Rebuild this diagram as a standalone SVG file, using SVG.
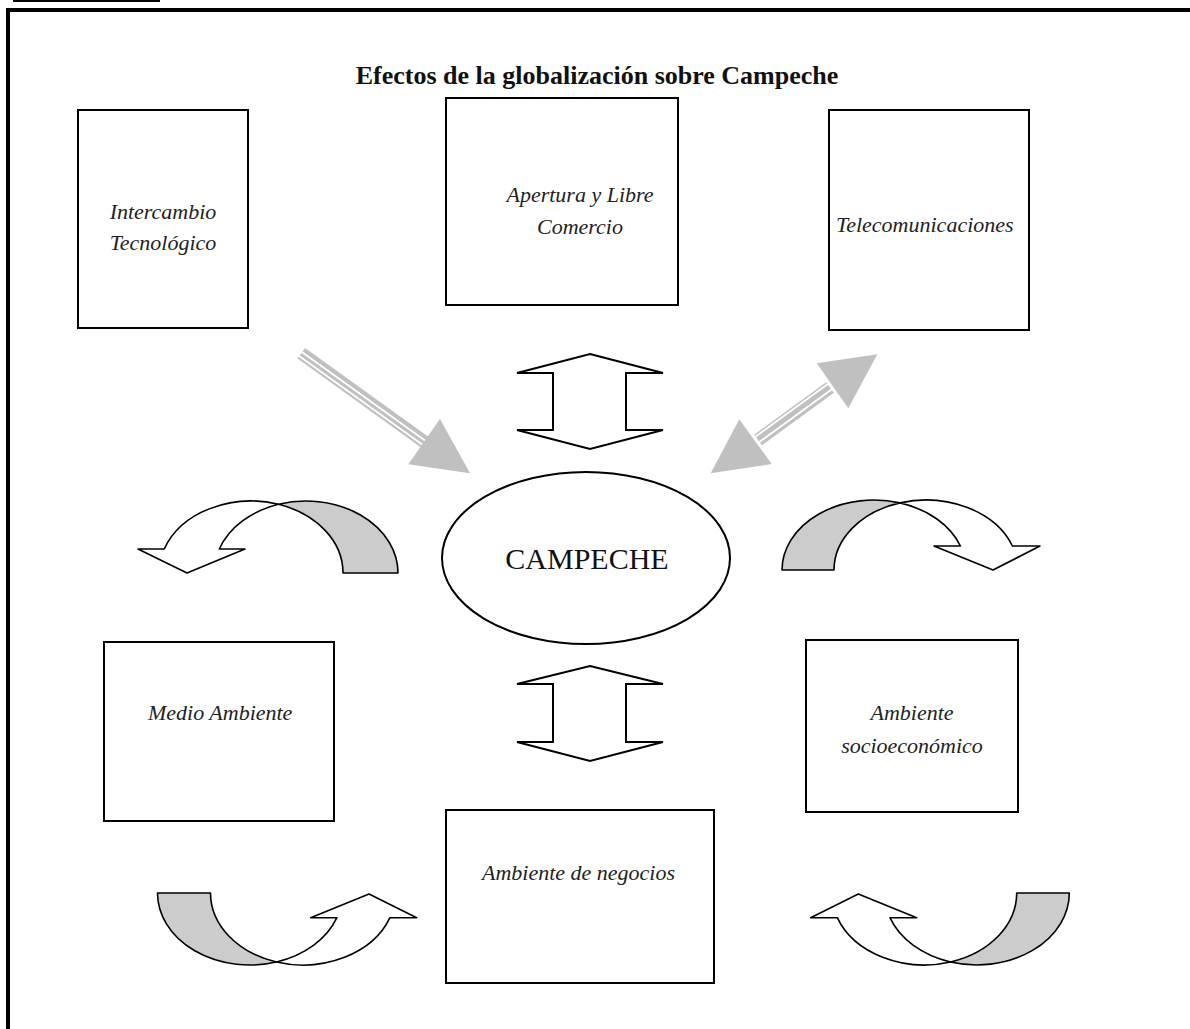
<svg xmlns="http://www.w3.org/2000/svg" width="1190" height="1029" viewBox="0 0 1190 1029">
<style>
.box{fill:#fff;stroke:#000;stroke-width:2}
.lbl{font-family:"Liberation Serif",serif;font-style:italic;font-size:22px;fill:#222}
.curve{stroke:#000;stroke-width:1.6;stroke-linejoin:round}
.w{fill:#fff}
.g{fill:#cccccc}
.dbl{fill:#fff;stroke:#000;stroke-width:2;stroke-linejoin:miter}
.shaft{stroke:#c0c0c0;stroke-width:13;fill:none}
.stripe{stroke:#fff;stroke-width:1.8;fill:none}
.head{fill:#c0c0c0}
</style>
<rect x="0" y="0" width="1190" height="1029" fill="#fff"/>
<line x1="13" y1="1" x2="160" y2="1" stroke="#000" stroke-width="2"/>
<path d="M8,1029 V10 H1190" fill="none" stroke="#000" stroke-width="4"/>
<text x="597" y="84" text-anchor="middle" font-family="Liberation Serif,serif" font-weight="bold" font-size="26" fill="#111">Efectos de la globalización sobre Campeche</text>

<g id="node-intercambio">
<rect class="box" x="78" y="110" width="170" height="218"/>
<text class="lbl" x="163" y="219" text-anchor="middle">Intercambio</text>
<text class="lbl" x="163" y="250" text-anchor="middle">Tecnológico</text>
</g>
<g id="node-apertura">
<rect class="box" x="446" y="98" width="232" height="207"/>
<text class="lbl" x="580" y="202" text-anchor="middle">Apertura y Libre</text>
<text class="lbl" x="580" y="234" text-anchor="middle">Comercio</text>
</g>
<g id="node-telecom">
<rect class="box" x="829" y="110" width="200" height="220"/>
<text class="lbl" x="836" y="232">Telecomunicaciones</text>
</g>
<g id="node-campeche">
<ellipse cx="586" cy="558" rx="144" ry="86" fill="#fff" stroke="#000" stroke-width="2"/>
<text x="587" y="569" text-anchor="middle" font-family="Liberation Serif,serif" font-size="30" fill="#111">CAMPECHE</text>
</g>
<g id="node-medio">
<rect class="box" x="104" y="642" width="230" height="179"/>
<text class="lbl" x="148" y="720">Medio Ambiente</text>
</g>
<g id="node-negocios">
<rect class="box" x="446" y="810" width="268" height="173"/>
<text class="lbl" x="482" y="880">Ambiente de negocios</text>
</g>
<g id="node-socio">
<rect class="box" x="806" y="640" width="212" height="172"/>
<text class="lbl" x="912" y="720" text-anchor="middle">Ambiente</text>
<text class="lbl" x="912" y="753" text-anchor="middle">socioeconómico</text>
</g>

<g id="connectors">
<g>
<line class="shaft" x1="301.3" y1="353.3" x2="428" y2="444.5"/>
<line class="stripe" x1="299.4" y1="350.3" x2="427.4" y2="442.3"/>
<line class="stripe" x1="297.4" y1="354.8" x2="427.4" y2="448.3"/>
<polygon class="head" points="440,419 408.3,464.3 470,473.3"/>
</g>
<g>
<line class="shaft" x1="758" y1="440" x2="830" y2="387.5"/>
<line class="stripe" x1="755" y1="437" x2="832" y2="381"/>
<line class="stripe" x1="758" y1="443" x2="835" y2="387"/>
<polygon class="head" points="816.7,363.3 848.3,408.3 877.3,354.3"/>
<polygon class="head" points="739.3,419.3 771.7,464 710.7,473.3"/>
</g>
<polygon class="dbl" points="590,354 663,373 626,373 626,430 663,430 590,449 517,430 553,430 553,373 517,373"/>
<polygon class="dbl" points="590,666 663,684 626,684 626,742 663,742 590,761 517,742 553,742 553,684 517,684"/>
<path class="curve g" d="M278.5,504.3 A92 72 0 0 1 398,573 L343,573 A92 72 0 0 0 278.5,504.3 Z"/>
<path class="curve w" d="M164.3,549 A92 72 0 0 1 278.5,504.3 A92 72 0 0 0 219.3,549 L245,549 L187,573 L138,549 Z"/>
<path class="curve g" d="M782,570 A92 70 0 0 1 900,502.9 A92 70 0 0 0 834,570 Z"/>
<path class="curve w" d="M900,502.9 A92 70 0 0 1 960.4,546 L934,546 L993,570 L1040,546 L1012.4,546 A92 70 0 0 0 900,502.9 Z"/>
<path class="curve g" d="M157.5,893 L210.5,893 A92.5 72 0 0 0 276.5,962 A92.5 72 0 0 1 157.5,893 Z"/>
<path class="curve w" d="M276.5,962 A92.5 72 0 0 0 336.9,917.7 L310.7,917.7 L369,894 L416.7,917.7 L389.9,917.7 A92.5 72 0 0 1 276.5,962 Z"/>
<path class="curve g" d="M1069.3,893 A92.5 72 0 0 1 950.5,962 A92.5 72 0 0 0 1016.7,893 Z"/>
<path class="curve w" d="M950.5,962 A92.5 72 0 0 1 837.3,917.7 L810.7,917.7 L858.3,894 L916.7,917.7 L889.9,917.7 A92.5 72 0 0 0 950.5,962 Z"/>
</g>
</svg>
